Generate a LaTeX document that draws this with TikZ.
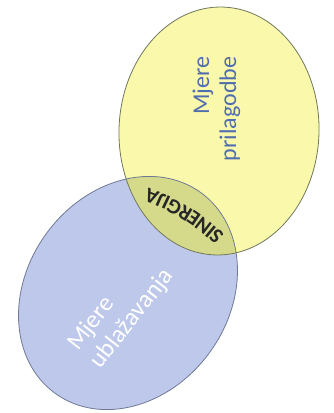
\documentclass[tikz,border=0pt]{standalone}
\usepackage{fontspec}
\setmainfont{Carlito}
\usetikzlibrary{decorations.text,calc}
\definecolor{yel}{RGB}{250,248,170}
\definecolor{blu}{RGB}{189,200,234}
\definecolor{olv}{RGB}{213,218,138}
\definecolor{edgeyel}{RGB}{112,120,92}
\definecolor{edgeblu}{RGB}{112,122,150}
\definecolor{txtblue}{RGB}{80,110,175}
\tikzset{
  border/.style={line width=0.8pt},
  label/.style={inner sep=0pt},
}
\begin{document}
\begin{tikzpicture}[x=1pt,y=1pt]
\useasboundingbox (0,0) rectangle (334,413);
\fill[white] (0,0) rectangle (334,413);
% fills
\fill[blu, rotate around={-36:(128,120)}] (128,120) ellipse [x radius=101, y radius=124];
\fill[yel, rotate around={-2:(219,282)}] (219,282) ellipse [x radius=100, y radius=124];
\begin{scope}
  \clip[rotate around={-36:(128,120)}] (128,120) ellipse [x radius=101, y radius=124];
  \fill[olv, rotate around={-2:(219,282)}] (219,282) ellipse [x radius=100, y radius=124];
\end{scope}
% borders
\draw[border, edgeblu, rotate around={-36:(128,120)}] (128,120) ellipse [x radius=101, y radius=124];
\draw[border, edgeyel, rotate around={-2:(219,282)}] (219,282) ellipse [x radius=100, y radius=124];
% texts
\node[label, rotate=90, align=right, text=txtblue, font=\fontsize{24}{27}\selectfont] (prilagodba) at (216.5,304) {Mjere\\prilagodbe};
\node[label, rotate=52, align=left, text=white, font=\fontsize{25}{29}\selectfont] (ublazavanje) at (121,103) {Mjere\\ublažavanja};
\coordinate (arcc) at (75.5,20.6);
\path[decorate, decoration={text along path, text align=center,
      text={|\fontsize{21}{21}\selectfont\bfseries\color{black!85}|SINERGIJA}}]
    ($(arcc)+(38:217)$) arc [start angle=38, end angle=79, radius=217];
\end{tikzpicture}
\end{document}
